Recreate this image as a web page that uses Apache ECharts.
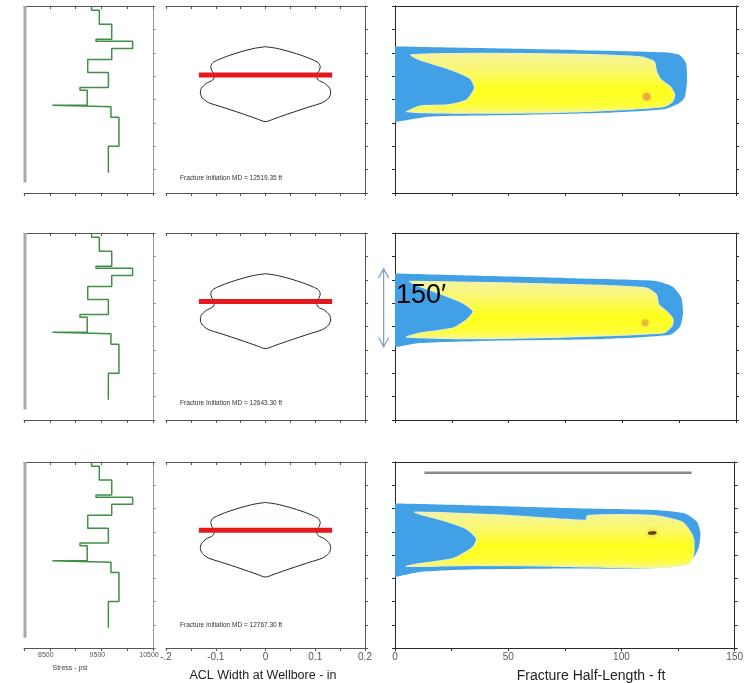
<!DOCTYPE html>
<html>
<head>
<meta charset="utf-8">
<script src="https://cdn.jsdelivr.net/npm/echarts@6/dist/echarts.min.js"></script>
<style>
  html, body { margin: 0; padding: 0; background: #ffffff; }
  #chart { width: 746px; height: 683px; }
</style>
</head>
<body>
<div id="chart"></div>
<script>
// ---- Depth window shared by every panel (relative depth, ft, downward) ----
const depthMax = 360;
const depthStep = 45;

// ---- Stress profile (layer tops in ft, closure stress in psi) ----
const stressTops = [0, 8, 35, 64, 68, 82, 103, 128, 157, 162, 191, 194, 214, 270];
const stressBase = 321;
const stressPsi = [9310, 9460, 9700, 9395, 10105, 9700, 9235, 9635, 9085, 9225, 8550, 9685, 9840, 9635];
const referenceTrace = [[8019, 0], [8019, 340]];

// ---- ACL width at wellbore, right half of the symmetric profile ----
const widthDepths = [78.4, 81.4, 88, 96.3, 104, 109.2, 116.9, 124.6, 132.8, 142.5, 148.8, 158.4, 167.5, 177, 185.8, 193.9, 206.6, 216.6, 222.7];
const widthValues = [0, 0.022, 0.049, 0.076, 0.096, 0.106, 0.11, 0.108, 0.102, 0.106, 0.119, 0.129, 0.131, 0.127, 0.115, 0.089, 0.049, 0.019, 0];
const perfHalfWidth = 0.134;

// ---- Per-row initiation data ----
const initDepth = [133, 132, 132];
const initMD = ['12519.35', '12643.30', '12767.30'];

// ---- Fracture half-length contours: [half-length ft, depth ft] ----
const row1Outer = [[0,78],[37,81],[81,85],[118,89],[125,94],[128,110],[128.5,142],[127.5,175],[125,187],[118,199],[96,205],[52,210],[15,213],[0,223]];
const row1Inner = [[7,94],[37,91],[81,93],[108,98],[114,107],[115,126],[117,142],[121,155],[123,171],[122,184],[118,194],[81,203.5],[37,206.5],[5,203.5],[11,192.5],[23,190.5],[31.5,181],[35,158],[33,139],[23,120],[11,104]];
const row2Outer = [[0,78],[33,82],[77,87],[114,92],[122,103],[126,125],[126.7,154],[125.4,180],[121,196],[92,204],[47.5,207],[11,212],[0,220]];
const row2Inner = [[6.6,93],[47.6,96],[91.6,101],[110.7,106],[115,119],[116,138],[119.5,151],[122.4,167],[121.7,180],[118,192.5],[77,200],[33,203.5],[5,200],[11,192.5],[25.6,183],[31.5,167],[34.4,151],[30,135],[21,119],[11,103]];
const row3Outer = [[0,80.5],[47.6,85.7],[84.3,90.2],[116.6,93.5],[128.3,100],[133.4,116],[134.9,138.6],[134.2,164.5],[132,184],[125.4,200],[110.7,206.3],[77,206.3],[33,208.3],[11,213],[0,222.6]];
const row3Inner = [[8.8,97],[47.6,103],[84.3,112.8],[85,103.5],[113.6,103.2],[126.8,116],[130.5,135.5],[132,151.5],[132,177],[129.8,196.6],[121,203],[106,205],[77,202],[33,200],[5,202],[11,196.6],[25.7,187],[34.5,164.5],[36,148],[31.5,129],[21.3,113],[11,101]];
const outerContours = [row1Outer, row2Outer, row3Outer];
const innerContours = [row1Inner, row2Inner, row3Inner];
const hotSpots = [[110.7, 174.6], [110, 173], [113.6, 137.4]];
const scaleBar = [[13, 21], [131, 21]];
const heightMarker = { length: -5, top: 69, bottom: 219, text: '150\u2032' };

// ---- Layout ----
const cols = [
  { left: 24, width: 129, min: 8000, max: 10500, interval: 500, line: '#555', sideLine: '#999' },
  { left: 166, width: 199, min: -0.2, max: 0.2, interval: 0.05, line: '#555', sideLine: '#555' },
  { left: 395, width: 341, min: 0, max: 150, interval: 25, line: '#2a2a2a', sideLine: '#2a2a2a' }
];
const rows = [
  { top: 6, height: 187 },
  { top: 233, height: 187 },
  { top: 462, height: 186 }
];

const labelFormatters = [
  v => (v % 1000 === 500 ? String(v) : ''),
  v => {
    const k = Math.round(v * 100);
    if (k === -20) return '-.2';
    if (k % 10 !== 0) return '';
    return k === 0 ? '0' : (k / 100).toFixed(1);
  },
  v => (v % 50 === 0 ? String(v) : '')
];

const grid = [], xAxis = [], yAxis = [], series = [];

rows.forEach((R, r) => {
  cols.forEach((C, c) => {
    const g = grid.length;
    grid.push({ left: C.left, top: R.top, width: C.width, height: R.height });
    const base = { type: 'value', gridIndex: g, min: C.min, max: C.max, interval: C.interval, splitLine: { show: false } };
    xAxis.push(Object.assign({}, base, {
      position: 'bottom',
      axisLine: { show: true, onZero: false, lineStyle: { color: C.line, width: 1 } },
      axisTick: { show: true, inside: false, length: 3, lineStyle: { color: C.line } },
      axisLabel: {
        show: r === 2, formatter: labelFormatters[c], color: '#555',
        fontSize: c === 0 ? 7 : 10, margin: 4,
        padding: c === 0 ? [0, 8, 0, 0] : 0
      }
    }));
    xAxis.push(Object.assign({}, base, {
      position: 'top',
      axisLine: { show: true, onZero: false, lineStyle: { color: C.line, width: 1 } },
      axisTick: { show: c !== 2, inside: true, length: 3, lineStyle: { color: C.line } },
      axisLabel: { show: false }
    }));
    const ybase = { type: 'value', gridIndex: g, inverse: true, min: 0, max: depthMax, interval: depthStep, splitLine: { show: false }, axisLabel: { show: false } };
    yAxis.push(Object.assign({}, ybase, {
      position: 'left',
      axisLine: { show: c === 2, onZero: false, lineStyle: { color: C.sideLine } },
      axisTick: { show: c === 2, inside: false, length: 3, lineStyle: { color: C.sideLine } }
    }));
    yAxis.push(Object.assign({}, ybase, {
      position: 'right',
      axisLine: { show: true, onZero: false, lineStyle: { color: C.sideLine } },
      axisTick: { show: true, inside: false, length: 3, lineStyle: { color: C.sideLine } }
    }));
  });
});

function axes(g) { return { xAxisIndex: 2 * g, yAxisIndex: 2 * g }; }

// Step profile vertices from layer data
const stressPath = [];
stressPsi.forEach((s, i) => {
  const bottom = i + 1 < stressTops.length ? stressTops[i + 1] : stressBase;
  stressPath.push([s, stressTops[i]], [s, bottom]);
});

// Closed width profile (mirror of the right half)
const widthPath = [];
widthDepths.forEach((d, i) => widthPath.push([widthValues[i], d]));
for (let i = widthDepths.length - 1; i >= 0; i--) widthPath.push([-widthValues[i], widthDepths[i]]);

const innerFill = () => new echarts.graphic.LinearGradient(0, 0, 0, 1, [
  { offset: 0, color: '#f6f3a0' },
  { offset: 0.3, color: '#faf96c' },
  { offset: 0.6, color: '#ffff1c' },
  { offset: 0.85, color: '#ffff34' },
  { offset: 1, color: '#f8f690' }
]);

// Smoothed polygon kept inside the bounding box of its own vertices
function contourShape(points, api) {
  const px = points.map(p => api.coord(p));
  const xs = px.map(p => p[0]), ys = px.map(p => p[1]);
  return {
    points: px, smooth: 0.2,
    smoothConstraint: [[Math.min(...xs), Math.min(...ys)], [Math.max(...xs), Math.max(...ys)]]
  };
}

rows.forEach((R, r) => {
  const g1 = r * 3, g2 = r * 3 + 1, g3 = r * 3 + 2;

  series.push(Object.assign({
    type: 'line', data: referenceTrace, symbol: 'none', silent: true,
    lineStyle: { color: '#a9a9a9', width: 3 }
  }, axes(g1)));

  series.push(Object.assign({
    type: 'line', data: stressPath, symbol: 'none', silent: true,
    lineStyle: { color: '#3f8f45', width: 1.5 }
  }, axes(g1)));

  series.push(Object.assign({
    type: 'line', data: widthPath, symbol: 'none', smooth: 0.25, silent: true,
    lineStyle: { color: '#222', width: 1 }
  }, axes(g2)));

  series.push(Object.assign({
    type: 'line', data: [[-perfHalfWidth, initDepth[r]], [perfHalfWidth, initDepth[r]]],
    symbol: 'none', silent: true,
    lineStyle: { color: '#e3191c', width: 5 }
  }, axes(g2)));

  const outer = outerContours[r], inner = innerContours[r];
  series.push(Object.assign({
    type: 'custom', data: [[0, 0]], silent: true, clip: true,
    renderItem: (params, api) => ({
      type: 'group',
      children: [
        { type: 'polygon', shape: contourShape(outer, api), style: { fill: '#42a1e6' } },
        { type: 'polygon', shape: contourShape(inner, api), style: { fill: innerFill(), stroke: '#eef2b4', lineWidth: 1.2 } }
      ]
    })
  }, axes(g3)));

  const spot = r === 2
    ? { symbolSize: [9, 3.5], symbolRotate: 6, itemStyle: { color: '#3a1c00', shadowBlur: 5, shadowColor: '#d98a10' } }
    : { symbolSize: r === 0 ? 8 : 7, itemStyle: { color: r === 0 ? '#e9a43a' : '#e9ae38', shadowBlur: 3, shadowColor: '#f1c85a' } };
  series.push(Object.assign({ type: 'scatter', data: [hotSpots[r]], silent: true }, spot, axes(g3)));

  if (r === 2) {
    series.push(Object.assign({
      type: 'line', data: scaleBar, symbol: 'none', silent: true,
      lineStyle: { color: '#8a8a8a', width: 2.5 }
    }, axes(g3)));
  }

  if (r === 1) {
    series.push(Object.assign({
      type: 'custom', data: [[0, 0]], silent: true, clip: false, z: 5,
      renderItem: (params, api) => {
        const a = api.coord([heightMarker.length, heightMarker.top]);
        const b = api.coord([heightMarker.length, heightMarker.bottom]);
        const t = api.coord([0.4, (heightMarker.top + heightMarker.bottom) / 2 - 24]);
        const st = { stroke: '#7d9cc8', lineWidth: 1.2, fill: null };
        return {
          type: 'group',
          children: [
            { type: 'line', shape: { x1: a[0], y1: a[1], x2: b[0], y2: b[1] }, style: st },
            { type: 'polyline', shape: { points: [[a[0] - 5, a[1] + 9], a, [a[0] + 5, a[1] + 9]] }, style: st },
            { type: 'polyline', shape: { points: [[b[0] - 5, b[1] - 9], b, [b[0] + 5, b[1] - 9]] }, style: st },
            { type: 'text', x: t[0], y: t[1], style: { text: heightMarker.text, fill: '#000', fontSize: 27, fontFamily: 'Liberation Sans', align: 'left', verticalAlign: 'middle' } }
          ]
        };
      }
    }, axes(g3)));
  }
});

// Captions
const graphic = [];
const mdY = [178, 403, 625];
initMD.forEach((md, r) => {
  graphic.push({ type: 'text', x: 180, y: mdY[r], silent: true,
    style: { text: 'Fracture Initiation MD = ' + md + ' ft', fill: '#333', fontSize: 6.5, fontFamily: 'Liberation Sans', verticalAlign: 'middle' } });
});
graphic.push({ type: 'text', x: 70, y: 668, silent: true,
  style: { text: 'Stress - psi', fill: '#444', fontSize: 7, fontFamily: 'Liberation Sans', align: 'center', verticalAlign: 'middle' } });
graphic.push({ type: 'text', x: 263, y: 676, silent: true,
  style: { text: 'ACL Width at Wellbore - in', fill: '#222', fontSize: 12.5, fontFamily: 'Liberation Sans', align: 'center', verticalAlign: 'middle' } });
graphic.push({ type: 'text', x: 591, y: 676, silent: true,
  style: { text: 'Fracture Half-Length - ft', fill: '#222', fontSize: 14, fontFamily: 'Liberation Sans', align: 'center', verticalAlign: 'middle' } });

const chart = echarts.init(document.getElementById('chart'), null, { renderer: 'canvas' });
chart.setOption({
  backgroundColor: '#ffffff',
  animation: false,
  textStyle: { fontFamily: 'Liberation Sans' },
  grid, xAxis, yAxis, series, graphic
});
</script>
</body>
</html>
